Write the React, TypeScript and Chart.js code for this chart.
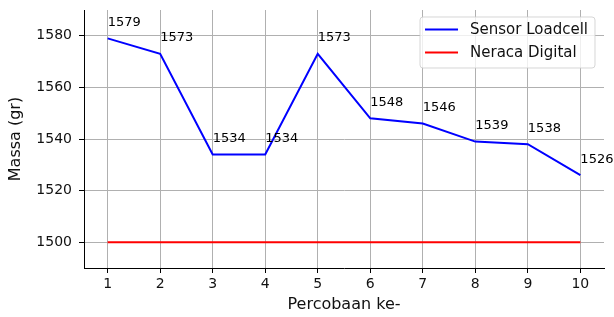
import React, { useEffect, useRef } from "react";
import { Chart, registerables } from "chart.js";

Chart.register(...registerables);

const trials = [1, 2, 3, 4, 5, 6, 7, 8, 9, 10];
const loadcell = [1579, 1573, 1534, 1534, 1573, 1548, 1546, 1539, 1538, 1526];
const neraca = [1500, 1500, 1500, 1500, 1500, 1500, 1500, 1500, 1500, 1500];
const yTicks = [1500, 1520, 1540, 1560, 1580];
const seriesLabels = ["Sensor Loadcell", "Neraca Digital"];
const xTitle = "Percobaan ke-";
const yTitle = "Massa (gr)";

const FONT = "'DejaVu Sans', sans-serif";

const annotatePlugin = {
  id: "annotate",
  afterDatasetsDraw(chart: any) {
    const ctx = chart.ctx;
    const xs = chart.scales.x;
    const ys = chart.scales.y;
    ctx.save();
    ctx.font = `13px ${FONT}`;
    ctx.fillStyle = "#000";
    ctx.textAlign = "left";
    ctx.textBaseline = "alphabetic";
    loadcell.forEach((v, i) => {
      const px = xs.getPixelForValue(trials[i]);
      const py = ys.getPixelForValue(v);
      ctx.fillText(String(v), px, py - 12.5);
    });
    ctx.restore();
  },
};

const legendPlugin = {
  id: "mplLegend",
  afterDraw(chart: any) {
    const ctx = chart.ctx;
    const area = chart.chartArea;
    ctx.save();
    ctx.font = `15px ${FONT}`;
    const ds = chart.data.datasets;
    let maxW = 0;
    ds.forEach((d: any) => {
      maxW = Math.max(maxW, ctx.measureText(d.label).width);
    });
    const w = 5 + 33 + 12 + maxW + 7;
    const h = 51;
    const right = area.right - 9;
    const top = area.top + 7;
    const left = right - w;
    const r = 3;
    ctx.beginPath();
    ctx.moveTo(left + r, top);
    ctx.lineTo(left + w - r, top);
    ctx.arcTo(left + w, top, left + w, top + r, r);
    ctx.lineTo(left + w, top + h - r);
    ctx.arcTo(left + w, top + h, left + w - r, top + h, r);
    ctx.lineTo(left + r, top + h);
    ctx.arcTo(left, top + h, left, top + h - r, r);
    ctx.lineTo(left, top + r);
    ctx.arcTo(left, top, left + r, top, r);
    ctx.closePath();
    ctx.fillStyle = "rgba(255,255,255,0.8)";
    ctx.fill();
    ctx.strokeStyle = "rgba(204,204,204,0.8)";
    ctx.lineWidth = 1;
    ctx.stroke();
    ds.forEach((d: any, i: number) => {
      const y = top + 12.5 + i * 23;
      ctx.beginPath();
      ctx.moveTo(left + 5, y);
      ctx.lineTo(left + 38, y);
      ctx.strokeStyle = d.borderColor;
      ctx.lineWidth = 2;
      ctx.stroke();
      ctx.fillStyle = "#111";
      ctx.textAlign = "left";
      ctx.textBaseline = "middle";
      ctx.fillText(d.label, left + 50, y + 1);
    });
    ctx.restore();
  },
};

export default function App() {
  const ref = useRef<HTMLCanvasElement>(null);
  useEffect(() => {
    document.body.style.margin = "0";
    const canvas = ref.current!;
    const chart = new Chart(canvas, {
      type: "line",
      data: {
        datasets: [
          {
            label: seriesLabels[0],
            data: trials.map((t, i) => ({ x: t, y: loadcell[i] })),
            borderColor: "#0000ff",
            backgroundColor: "#0000ff",
            borderWidth: 2,
            pointRadius: 0,
            tension: 0,
          },
          {
            label: seriesLabels[1],
            data: trials.map((t, i) => ({ x: t, y: neraca[i] })),
            borderColor: "#ff0000",
            backgroundColor: "#ff0000",
            borderWidth: 2,
            pointRadius: 0,
            tension: 0,
          },
        ],
      },
      options: {
        responsive: false,
        animation: false,
        devicePixelRatio: 1,
        layout: { padding: { top: 10, right: 10, left: 0, bottom: 0 } },
        plugins: {
          legend: { display: false },
          tooltip: { enabled: false },
        },
        scales: {
          x: {
            type: "linear",
            min: 0.55,
            max: 10.45,
            afterBuildTicks: (s: any) => {
              s.ticks = trials.map((v) => ({ value: v }));
            },
            afterFit: (s: any) => {
              s.height = 49;
              s.paddingLeft = 0;
              s.paddingRight = 0;
            },
            grid: {
              color: "#b0b0b0",
              lineWidth: 1,
              tickColor: "#000",
              tickLength: 5,
              drawTicks: true,
            },
            border: { color: "#000", width: 1 },
            ticks: {
              font: { family: FONT, size: 14 },
              color: "#111",
              padding: 3,
              maxRotation: 0,
              callback: (v: any) => String(v),
            },
            title: {
              display: true,
              text: xTitle,
              font: { family: FONT, size: 16 },
              color: "#111",
              padding: { top: 0, bottom: 2.4 },
            },
          },
          y: {
            type: "linear",
            min: 1490,
            max: 1590,
            afterBuildTicks: (s: any) => {
              s.ticks = yTicks.map((v) => ({ value: v }));
            },
            afterFit: (s: any) => {
              s.width = 84;
              s.paddingTop = 0;
              s.paddingBottom = 0;
            },
            grid: {
              color: "#b0b0b0",
              lineWidth: 1,
              tickColor: "#000",
              tickLength: 5,
              drawTicks: true,
            },
            border: { color: "#000", width: 1 },
            ticks: {
              font: { family: FONT, size: 14 },
              color: "#111",
              padding: 7,
              callback: (v: any) => String(v),
            },
            title: {
              display: true,
              text: yTitle,
              font: { family: FONT, size: 16 },
              color: "#111",
              padding: { top: 6.4, bottom: 0 },
            },
          },
        },
      },
      plugins: [annotatePlugin, legendPlugin],
    } as any);
    return () => chart.destroy();
  }, []);
  return (
    <canvas
      ref={ref}
      width={614}
      height={317}
      style={{ position: "absolute", left: 0, top: 0, width: 614, height: 317 }}
    />
  );
}
